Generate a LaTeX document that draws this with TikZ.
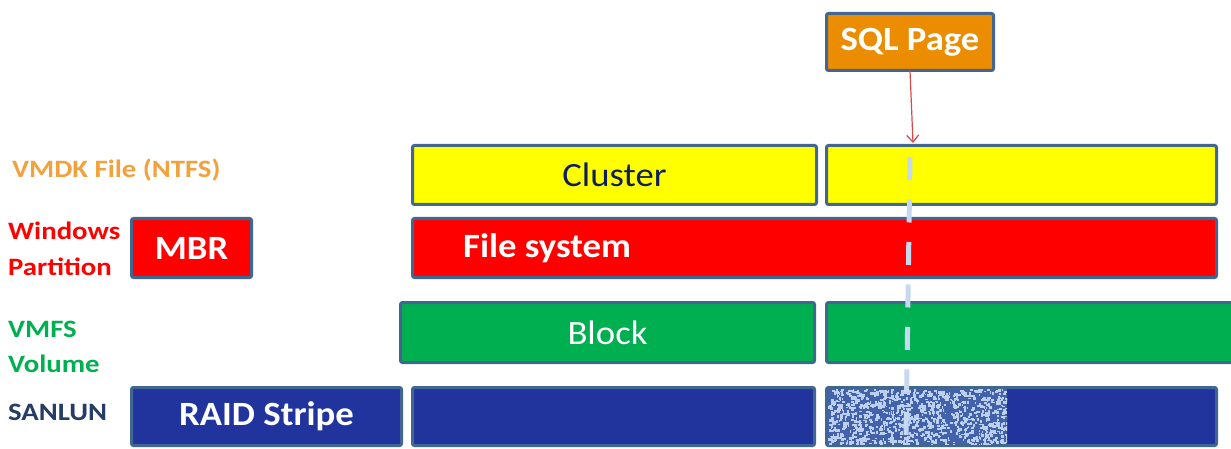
\documentclass[tikz,border=0pt]{standalone}
\usepackage{fontspec}
\setmainfont{Carlito}
\usetikzlibrary{arrows.meta}
\definecolor{bordc}{HTML}{41668F}
\definecolor{ylw}{HTML}{FFFF00}
\definecolor{rd}{HTML}{FF0000}
\definecolor{grn}{HTML}{00B050}
\definecolor{blu}{HTML}{21349E}
\definecolor{org}{HTML}{EC8C00}
\definecolor{lblorg}{HTML}{F2A23C}
\definecolor{lblnavy}{HTML}{253C66}
\definecolor{navytxt}{HTML}{0F1F5E}
\definecolor{dashc}{HTML}{C6D9F1}
\definecolor{arrc}{HTML}{D24A4A}
\definecolor{texbase}{HTML}{4362AC}
\definecolor{texdot}{HTML}{BDCFEE}
\tikzset{
  bar/.style={draw=bordc, line width=3pt, rounded corners=2pt, inner sep=0pt, outer sep=0pt},
  boxtext/.style={font=\fontsize{34}{38}\selectfont, inner sep=0pt},
  boxbold/.style={font=\bfseries\fontsize{34}{38}\selectfont, inner sep=0pt, text=white},
  lbl/.style={font=\bfseries\fontsize{25}{30}\selectfont, inner sep=0pt},
}
\newcommand{\bx}[6]{% name, x1, x2, y1, y2, style
  \node[bar, #6, minimum width={#3-#2-3}, minimum height={#5-#4-3}] (#1) at ({(#2+#3)/2},{(#4+#5)/2}) {};
}
\newcommand{\wb}[1]{\scalebox{1.08}[1]{#1}}
\newcommand{\wl}[1]{\scalebox{1.15}[1]{#1}}
\begin{document}
\begin{tikzpicture}[x=1pt,y=-1pt]
\useasboundingbox (0,0) rectangle (1231,449);
% boxes
\bx{cl1}{411}{818}{144}{206}{fill=ylw}
\bx{cl2}{825}{1218}{144}{206}{fill=ylw}
\bx{mbr}{130}{253}{217}{279}{fill=rd}
\bx{fs}{411}{1218}{217}{279}{fill=rd}
\bx{bl1}{399}{816}{301}{364}{fill=grn}
\bx{bl2}{825}{1240}{301}{364}{fill=grn}
\bx{rs}{130}{403}{386}{447}{fill=blu}
\bx{bm}{411}{816}{386}{447}{fill=blu}
\bx{br}{825}{1218}{386}{447}{fill=blu}
\bx{sql}{825}{995}{12}{72}{fill=org}
% texture
\fill[texbase] (828,389) rectangle (1007,444);
\begin{scope}
\clip (828,389) rectangle (1007,444);
\pgfmathsetseed{4242}
\foreach \i in {1,...,1100}{
  \pgfmathsetmacro{\rx}{828+179*rnd}
  \pgfmathsetmacro{\ry}{389+55*rnd}
  \pgfmathsetmacro{\rw}{1.2+2.2*rnd}
  \pgfmathsetmacro{\rh}{1.2+2.2*rnd}
  \fill[texdot] (\rx,\ry) rectangle ++(\rw,\rh);
}
\end{scope}
% box texts
\node[boxtext, text=navytxt] at (cl1.center) {\wb{Cluster}};
\node[boxbold, anchor=west] at (463,248) {\wb{File system}};
\node[boxbold] at (mbr.center) {\wb{MBR}};
\node[boxtext, text=white] at (bl1.center) {\wb{Block}};
\node[boxbold] at (rs.center) {\wb{RAID Stripe}};
\node[boxbold] at (sql.center) {\wb{SQL Page}};
% labels
\node[lbl, text=lblorg, anchor=base west] (l1) at (12,178) {\wl{VMDK File (NTFS)}};
\node[lbl, text=rd, anchor=base west] (l2a) at (8,240) {\wl{Windows}};
\node[lbl, text=rd, anchor=base west] (l2b) at (8,275) {\wl{Partition}};
\node[lbl, text=grn, anchor=base west] (l3a) at (8,337) {\wl{VMFS}};
\node[lbl, text=grn, anchor=base west] (l3b) at (8,372) {\wl{Volume}};
\node[lbl, text=lblnavy, anchor=base west] (l4) at (8,420) {\wl{SANLUN}};
% dashed trace
\coordinate (dtop) at (910,157);
\coordinate (dbot) at (906,437);
\draw[dashc, line width=5pt, dash pattern=on 23pt off 19.5pt] (dtop) -- (dbot);
% arrow
\coordinate (atip) at (913,143);
\draw[arrc, line width=1.2pt, -{Straight Barb[length=7pt,width=12pt]}] (sql.south -| 910,0) -- (atip);
\end{tikzpicture}
\end{document}
